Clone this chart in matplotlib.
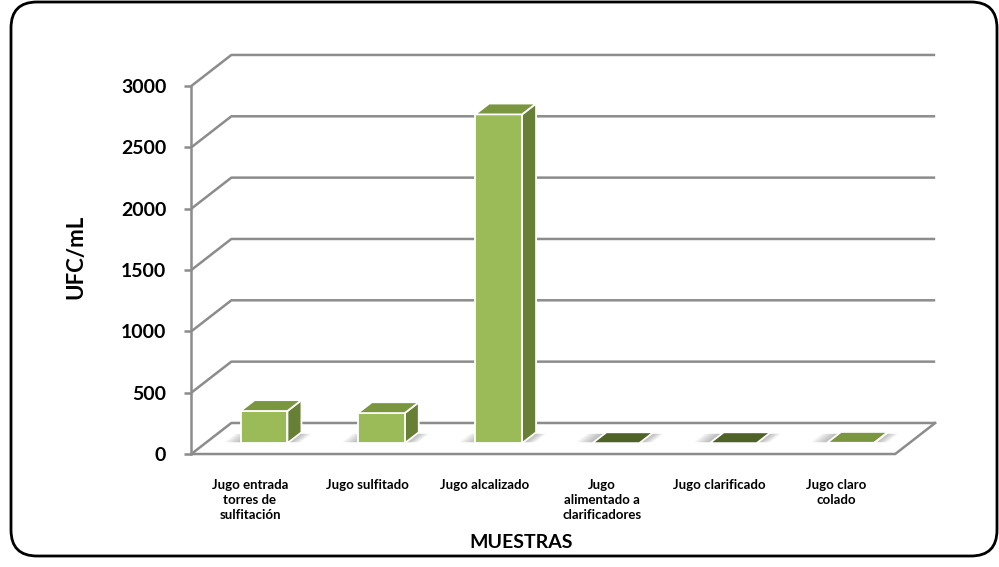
import matplotlib
matplotlib.use("Agg")
import matplotlib.pyplot as plt
from matplotlib.patches import Polygon, FancyBboxPatch
from matplotlib.transforms import IdentityTransform

plt.rcParams['font.family'] = ['Lato', 'DejaVu Sans']

# muestras y recuento (UFC/mL)
muestras = ["Jugo entrada\ntorres de\nsulfitación", "Jugo sulfitado", "Jugo alcalizado",
            "Jugo\nalimentado a\nclarificadores", "Jugo clarificado", "Jugo claro\ncolado"]
ufc = [262, 245, 2680, 0, 0, 3]
y_ticks = [0, 500, 1000, 1500, 2000, 2500, 3000]

# colores de las barras
c_front = "#9bbb59"
c_side = "#687f36"
c_top = "#7a973f"
c_zero = "#4f6228"
c_grid = "#8c8c8c"

# profundidad del "3D": desplazamiento del fondo en unidades de datos
DX = 0.341
DY = 253.0
Z0, Z1 = 0.35, 0.70   # cara frontal y trasera de las barras
W = 0.40              # ancho de barra

fig = plt.figure(figsize=(9.99, 5.67), dpi=100)
ax = fig.add_axes([0, 0, 1, 1])
ax.set_xlim(-2.131, 6.385)
ax.set_ylim(-921, 3701)
ax.set_facecolor("none")

def p(x, y, z):
    return (x + z * DX, y + z * DY)

n = len(muestras)
x0, x1 = -0.5, n - 0.5

# lineas de division (pared del fondo)
for v in y_ticks:
    ax.plot([x0, x0 + DX, x1 + DX], [v, v + DY, v + DY], color=c_grid, lw=1.8,
            solid_capstyle="butt", zorder=1)

# piso
ax.plot([x0, x1, x1 + DX], [0, 0, DY], color=c_grid, lw=1.8, zorder=1)

# eje vertical
ax.spines[["top", "right", "bottom"]].set_visible(False)
ax.spines["left"].set_position(("data", x0))
ax.spines["left"].set_bounds(0, y_ticks[-1])
ax.spines["left"].set_color(c_grid)
ax.spines["left"].set_linewidth(1.8)
ax.set_yticks(y_ticks)
ax.set_yticklabels([str(v) for v in y_ticks], fontsize=14, fontweight="bold")
ax.tick_params(axis="y", length=5, width=1.8, color=c_grid, pad=13)
ax.set_xticks([])

# sombras difusas sobre el piso
for i, v in enumerate(ufc):
    for k in range(7):
        s = 0.01 + k * 0.022
        xa, ya = p(i - W / 2 - s, 0, Z0 + 0.03)
        xb, yb = p(i + W / 2 + s * 0.7, 0, Z0 + 0.03)
        xc, yc = p(i + W / 2 + s * 0.7, 0, Z1 - 0.05)
        xd, yd = p(i - W / 2 - s, 0, Z1 - 0.05)
        ax.add_patch(Polygon([(xa, ya), (xb, yb), (xc, yc), (xd, yd)],
                             closed=True, fc="#6f6f6f", ec="none", alpha=0.09, zorder=2))

# barras
for i, v in enumerate(ufc):
    l, r = i - W / 2, i + W / 2
    if v > 0:
        front = [p(l, 0, Z0), p(r, 0, Z0), p(r, v, Z0), p(l, v, Z0)]
        side = [p(r, 0, Z0), p(r, 0, Z1), p(r, v, Z1), p(r, v, Z0)]
        ax.add_patch(Polygon(side, closed=True, fc=c_side, ec="white", lw=1.3, zorder=3))
        ax.add_patch(Polygon(front, closed=True, fc=c_front, ec="white", lw=1.3, zorder=4))
    top = [p(l, v, Z0), p(r, v, Z0), p(r, v, Z1), p(l, v, Z1)]
    ax.add_patch(Polygon(top, closed=True, fc=c_top if v > 0 else c_zero,
                         ec="white", lw=1.3, zorder=4))

# etiquetas de categorias
for i, lab in enumerate(muestras):
    ax.text(i, -200, lab, ha="center", va="top", fontsize=9.5, fontweight="bold",
            linespacing=1.3)

ax.text(2.31, -725, "MUESTRAS", ha="center", va="center", fontsize=14, fontweight="bold")
ax.text(-1.48, 1610, "UFC/mL", ha="center", va="center", rotation=90,
        fontsize=16, fontweight="bold")

# marco redondeado
frame = FancyBboxPatch((11, 11), 986, 554, boxstyle="round,pad=0,rounding_size=26",
                       fc="none", ec="black", lw=2.0, zorder=10)
frame.set_transform(IdentityTransform())
fig.patches.append(frame)

fig.savefig("out.png", dpi=100)
